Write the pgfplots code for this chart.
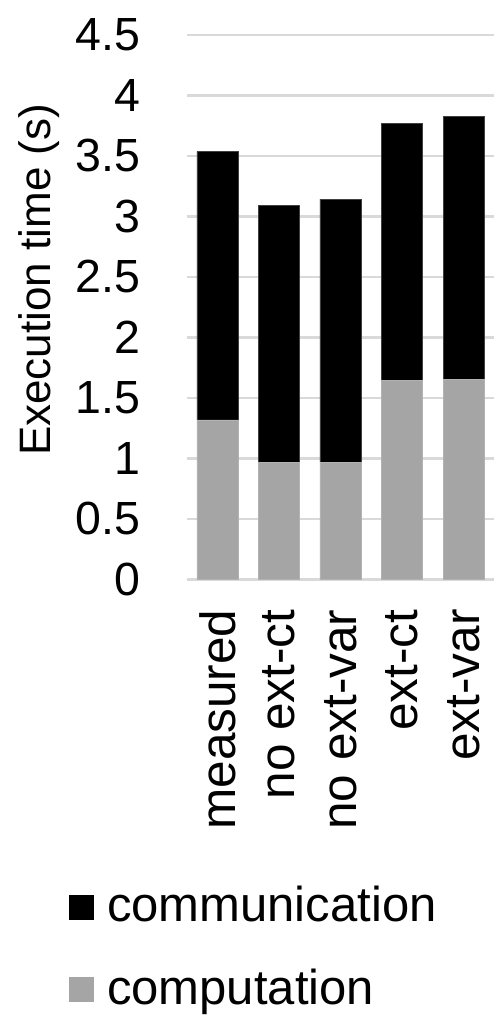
\documentclass[border=0pt]{standalone}
\usepackage{fontspec}
\setmainfont{Liberation Sans}
\usepackage{pgfplots}
\pgfplotsset{compat=1.18}
\definecolor{compgray}{HTML}{A5A5A5}
\definecolor{gridgray}{HTML}{D9D9D9}
\begin{document}
\fontsize{46bp}{55bp}\selectfont
\begin{tikzpicture}
\begin{axis}[
  scale only axis,
  width=307.6bp, height=544.5bp,
  ybar stacked,
  bar width=41bp,
  xmin=-0.5, xmax=4.5,
  ymin=0, ymax=4.5,
  xtick={0,1,2,3,4},
  xticklabels={measured,no ext-ct,no ext-var,ext-ct,ext-var},
  ytick={0,0.5,1,1.5,2,2.5,3,3.5,4,4.5},
  axis line style={draw=none},
  major tick length=0pt,
  ymajorgrids,
  grid style={gridgray, line width=2.5bp},
  /pgf/number format/assume math mode=true,
  yticklabel style={font=\fontsize{46.5bp}{55bp}\selectfont, inner xsep=0pt, xshift=-46bp},
  xticklabel style={font=\fontsize{49.5bp}{58bp}\selectfont, rotate=90, anchor=east, inner xsep=0pt},
  xticklabel shift=30bp,
  ylabel={Execution time (s)},
  ylabel style={font=\fontsize{44bp}{52bp}\selectfont, at={(axis description cs:-0.412,0.55)}, anchor=south, inner sep=0pt, rotate=0},
  legend style={draw=none, at={(axis description cs:-0.383,-0.558)}, anchor=north west,
    font=\fontsize{49bp}{58bp}\selectfont, inner sep=0pt, row sep=34bp,
    nodes={inner sep=3bp}},
  legend cell align=left,
  reverse legend,
  legend image code/.code={\fill[#1, draw=none] (0bp,-12.5bp) rectangle (25bp,12.5bp); \path[draw=none, fill=none] (0bp,0bp) -- (35bp,0bp);},
]
\addplot[fill=compgray, draw=compgray!85!white, line width=0.6bp] coordinates {(0,1.317) (1,0.969) (2,0.969) (3,1.641) (4,1.650)};
\addplot[fill=black, draw=black!75, line width=0.6bp] coordinates {(0,2.217) (1,2.121) (2,2.174) (3,2.124) (4,2.173)};
\legend{computation, communication}
\coordinate (o) at (rel axis cs:0,0);
\end{axis}
\pgfresetboundingbox
\path (o) ++(-186.7bp,-442.7bp) rectangle ++(498bp,1022bp);
\end{tikzpicture}
\end{document}
